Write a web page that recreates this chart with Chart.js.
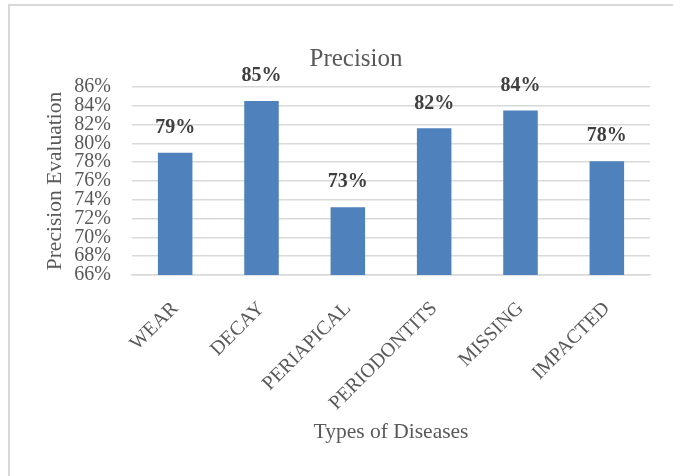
<!DOCTYPE html>
<html>
<head>
<meta charset="utf-8">
<title>Precision</title>
<script src="https://cdn.jsdelivr.net/npm/chart.js@4/dist/chart.umd.min.js"></script>
<style>
  html, body { margin: 0; padding: 0; background: #ffffff; overflow: hidden; }
  #wrap { position: relative; width: 673px; height: 476px; }
  #frame {
    position: absolute; left: 8px; top: 4px; width: 700px; height: 500px;
    border-left: 2px solid #d9d9d9; border-top: 2px solid #d9d9d9;
    pointer-events: none;
  }
  canvas { position: absolute; left: 0; top: 0; }
</style>
</head>
<body>
<div id="wrap">
  <canvas id="chart" width="673" height="476"></canvas>
  <div id="frame"></div>
</div>
<script>
// Disease categories and their precision (in percent)
const categories = ['WEAR', 'DECAY', 'PERIAPICAL', 'PERIODONTITS', 'MISSING', 'IMPACTED'];
const precisionValues = [79.0, 84.5, 73.2, 81.6, 83.5, 78.1];

// Value axis range and tick spacing (percent)
const yMin = 66;
const yMax = 86;
const yStep = 2;

const chartTitle = 'Precision';
const xAxisTitle = 'Types of Diseases';
const yAxisTitle = 'Precision Evaluation';

const SERIF = "'Liberation Serif', 'Times New Roman', serif";
const TEXT_GREY = '#595959';
const GRID_GREY = '#d9d9d9';
const BAR_BLUE = '#4f81bd';

// Chart title, centred over the whole chart object
const titlePlugin = {
  id: 'chartTitle',
  afterDraw(chart) {
    const ctx = chart.ctx;
    ctx.save();
    ctx.font = '25px ' + SERIF;
    ctx.fillStyle = TEXT_GREY;
    ctx.textAlign = 'center';
    ctx.textBaseline = 'middle';
    ctx.fillText(chartTitle, 356, 59);
    ctx.restore();
  }
};

// Bold percentage labels above each bar
const valueLabels = {
  id: 'valueLabels',
  afterDatasetsDraw(chart) {
    const ctx = chart.ctx;
    const meta = chart.getDatasetMeta(0);
    const data = chart.data.datasets[0].data;
    ctx.save();
    ctx.font = 'bold 20px ' + SERIF;
    ctx.fillStyle = '#404040';
    ctx.textAlign = 'center';
    ctx.textBaseline = 'middle';
    meta.data.forEach((bar, i) => {
      ctx.fillText(Math.round(data[i]) + '%', bar.x, bar.y - 25);
    });
    ctx.restore();
  }
};

new Chart(document.getElementById('chart'), {
  type: 'bar',
  data: {
    labels: categories,
    datasets: [{
      data: precisionValues,
      backgroundColor: BAR_BLUE,
      borderWidth: 0,
      barPercentage: 0.4,
      categoryPercentage: 1.0
    }]
  },
  options: {
    responsive: false,
    animation: false,
    devicePixelRatio: 1,
    layout: { padding: { top: 87, right: 23, bottom: 0, left: 0 } },
    plugins: {
      legend: { display: false },
      title: { display: false },
      tooltip: { enabled: false }
    },
    scales: {
      x: {
        grid: { display: false, drawTicks: false },
        border: { display: true, color: GRID_GREY, width: 1.5 },
        ticks: {
          minRotation: 45,
          maxRotation: 45,
          autoSkip: false,
          padding: 22,
          color: TEXT_GREY,
          font: { family: SERIF, size: 20 }
        },
        title: {
          display: true,
          text: xAxisTitle,
          color: TEXT_GREY,
          font: { family: SERIF, size: 21.5 },
          padding: { top: 0, bottom: 31 }
        },
        afterFit(scale) { scale.height = 201; }
      },
      y: {
        min: yMin,
        max: yMax,
        ticks: {
          stepSize: yStep,
          autoSkip: false,
          padding: 21,
          color: TEXT_GREY,
          font: { family: SERIF, size: 20 },
          callback: (v) => v + '%'
        },
        grid: { color: GRID_GREY, lineWidth: 1.5, drawTicks: false },
        border: { display: false },
        title: {
          display: true,
          text: yAxisTitle,
          color: TEXT_GREY,
          font: { family: SERIF, size: 21.5 },
          padding: { top: 42, bottom: 0 }
        },
        afterFit(scale) { scale.width = 132; }
      }
    }
  },
  plugins: [titlePlugin, valueLabels]
});
</script>
</body>
</html>
